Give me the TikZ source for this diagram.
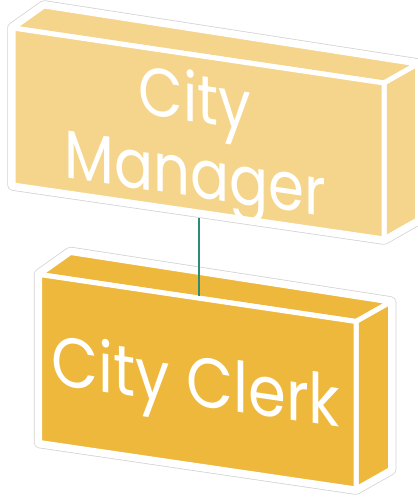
\documentclass[tikz,border=0pt]{standalone}
\usepackage{fontspec}
\newfontfamily\boxfont{Poppins}
\definecolor{mgrfill}{HTML}{F5D58C}
\definecolor{clkfill}{HTML}{EEB83C}
\definecolor{linkcol}{HTML}{2E8C72}
\definecolor{halogray}{HTML}{D2D2D2}
\begin{document}
\begin{tikzpicture}[x=1pt,y=-1pt,
  halo/.style={draw=halogray, line width=11.5pt, line join=round},
  haloin/.style={draw=white, line width=10pt, line join=round},
  face/.style={draw=white, line width=5pt, line join=round},
  lbl/.style={text=white, inner sep=0pt, anchor=base, yslant=-0.148, font=\boxfont\fontsize{68}{70}\selectfont},
  link/.style={draw=linkcol, line width=2.3pt}]
\useasboundingbox (0,0) rectangle (417,497);
% bottom box: City Clerk
\coordinate (bA) at (39.5,274.5);
\coordinate (bB) at (356,321.5);
\coordinate (bC) at (356,489);
\coordinate (bD) at (39.5,442.5);
\coordinate (bAb) at (70.5,252.5);
\coordinate (bBb) at (390.5,302);
\coordinate (bCb) at (390.5,469.5);
\draw[halo] (bAb) -- (bBb) -- (bCb) -- (bC) -- (bD) -- (bA) -- cycle;
\draw[haloin] (bAb) -- (bBb) -- (bCb) -- (bC) -- (bD) -- (bA) -- cycle;
\filldraw[face, fill=clkfill] (bA) -- (bAb) -- (bBb) -- (bB) -- cycle;
\filldraw[face, fill=clkfill] (bB) -- (bBb) -- (bCb) -- (bC) -- cycle;
\filldraw[face, fill=clkfill] (bA) -- (bB) -- (bC) -- (bD) -- cycle;
\node[lbl, xscale=0.87, font=\boxfont\fontsize{70}{72}\selectfont] (clerk) at (196,406) {City Clerk};
% connector
\coordinate (tlink) at (199,213);
\coordinate (blink) at (199,295.5);
\draw[link] (tlink) -- (blink);
% top box: City Manager
\coordinate (tA) at (13,28);
\coordinate (tB) at (384,83);
\coordinate (tC) at (384,239);
\coordinate (tD) at (13,185);
\coordinate (tAb) at (44,6);
\coordinate (tBb) at (417.5,64);
\coordinate (tCb) at (417.5,220);
\draw[halo] (tAb) -- (tBb) -- (tCb) -- (tC) -- (tD) -- (tA) -- cycle;
\draw[haloin] (tAb) -- (tBb) -- (tCb) -- (tC) -- (tD) -- (tA) -- cycle;
\filldraw[face, fill=mgrfill] (tA) -- (tAb) -- (tBb) -- (tB) -- cycle;
\filldraw[face, fill=mgrfill] (tB) -- (tBb) -- (tCb) -- (tC) -- cycle;
\filldraw[face, fill=mgrfill] (tA) -- (tB) -- (tC) -- (tD) -- cycle;
\node[lbl, xscale=0.85] (city) at (195,122) {City};
\node[lbl, xscale=0.85] (manager) at (195.5,197) {Manager};
\end{tikzpicture}
\end{document}
